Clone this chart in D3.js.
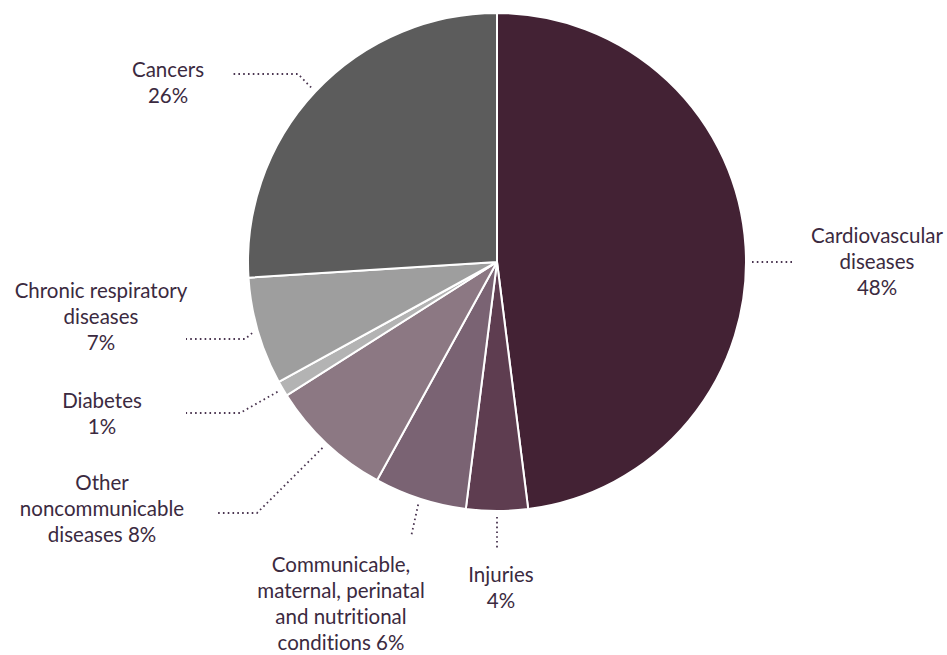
<!DOCTYPE html>
<html>
<head>
<meta charset="utf-8">
<script src="https://cdn.jsdelivr.net/npm/d3@7"></script>
<style>
  html, body { margin: 0; padding: 0; background: #fff; }
  svg { display: block; }
  text {
    font-family: Lato, "Open Sans", sans-serif;
    font-size: 20.5px;
    fill: #3b2a40;
    font-variant-ligatures: none;
    font-feature-settings: "liga" 0, "dlig" 0;
  }
</style>
</head>
<body>
<svg id="chart" width="947" height="655"></svg>
<script>
// Share of deaths by cause, clockwise from 12 o'clock
const causes = [
  "Cardiovascular diseases",
  "Injuries",
  "Communicable, maternal, perinatal and nutritional conditions",
  "Other noncommunicable diseases",
  "Diabetes",
  "Chronic respiratory diseases",
  "Cancers"
];
const shares = [48, 4, 6, 8, 1, 7, 26];
const sliceColors = ["#432234", "#5e3d50", "#7a6373", "#8c7883", "#b3b3b3", "#9e9e9e", "#5c5c5c"];

// Label text, broken into lines
const labelLines = [
  ["Cardiovascular", "diseases", "48%"],
  ["Injuries", "4%"],
  ["Communicable,", "maternal, perinatal", "and nutritional", "conditions 6%"],
  ["Other", "noncommunicable", "diseases 8%"],
  ["Diabetes", "1%"],
  ["Chronic respiratory", "diseases", "7%"],
  ["Cancers", "26%"]
];

// Label placement: text centre, first baseline, leader elbow/end, optional anchor angle override
const labelLayout = [
  { x: 877, y: 243, path: [[795, 262]], anchorAngle: Math.PI / 2 },
  { x: 501, y: 582, path: [[497, 550]] },
  { x: 341, y: 572, path: [[411, 537]] },
  { x: 102, y: 490, path: [[257, 513], [215, 513]] },
  { x: 102, y: 408, path: [[240, 413], [186, 413]] },
  { x: 101, y: 298, path: [[245, 339], [186, 339]] },
  { x: 168, y: 77,  path: [[298, 74], [232, 74]] }
];

const width = 947, height = 655;
const cx = 497, cy = 262, radius = 249;
const lineHeight = 26;

const svg = d3.select("#chart");
const g = svg.append("g").attr("transform", `translate(${cx},${cy})`);

const data = causes.map((c, i) => ({ cause: c, value: shares[i], i }));

const pie = d3.pie().sort(null).value(d => d.value);
const arcs = pie(data);

const arc = d3.arc().innerRadius(0).outerRadius(radius);

g.selectAll("path.slice")
  .data(arcs)
  .join("path")
  .attr("class", "slice")
  .attr("d", arc)
  .attr("fill", d => sliceColors[d.data.i])
  .attr("stroke", "#fff")
  .attr("stroke-width", 2)
  .attr("stroke-linejoin", "round");

// Leader lines: start just outside the rim, then through the elbow to the label
const leaderR = radius + 6;
const line = d3.line();
svg.append("g").selectAll("path.leader")
  .data(arcs)
  .join("path")
  .attr("class", "leader")
  .attr("d", d => {
    const lay = labelLayout[d.data.i];
    const a = lay.anchorAngle !== undefined ? lay.anchorAngle : (d.startAngle + d.endAngle) / 2;
    const start = [cx + leaderR * Math.sin(a), cy - leaderR * Math.cos(a)];
    return line([start, ...lay.path]);
  })
  .attr("fill", "none")
  .attr("stroke", "#4a3550")
  .attr("stroke-width", 1.8)
  .attr("stroke-dasharray", "1.6,3.2");

// Labels
const labels = svg.append("g").selectAll("text.label")
  .data(arcs)
  .join("text")
  .attr("class", "label")
  .attr("text-anchor", "middle")
  .attr("x", d => labelLayout[d.data.i].x)
  .attr("y", d => labelLayout[d.data.i].y);

labels.selectAll("tspan")
  .data(d => labelLines[d.data.i].map(t => ({ t, x: labelLayout[d.data.i].x })))
  .join("tspan")
  .attr("x", d => d.x)
  .attr("dy", (d, k) => k === 0 ? 0 : lineHeight)
  .text(d => d.t);
</script>
</body>
</html>
